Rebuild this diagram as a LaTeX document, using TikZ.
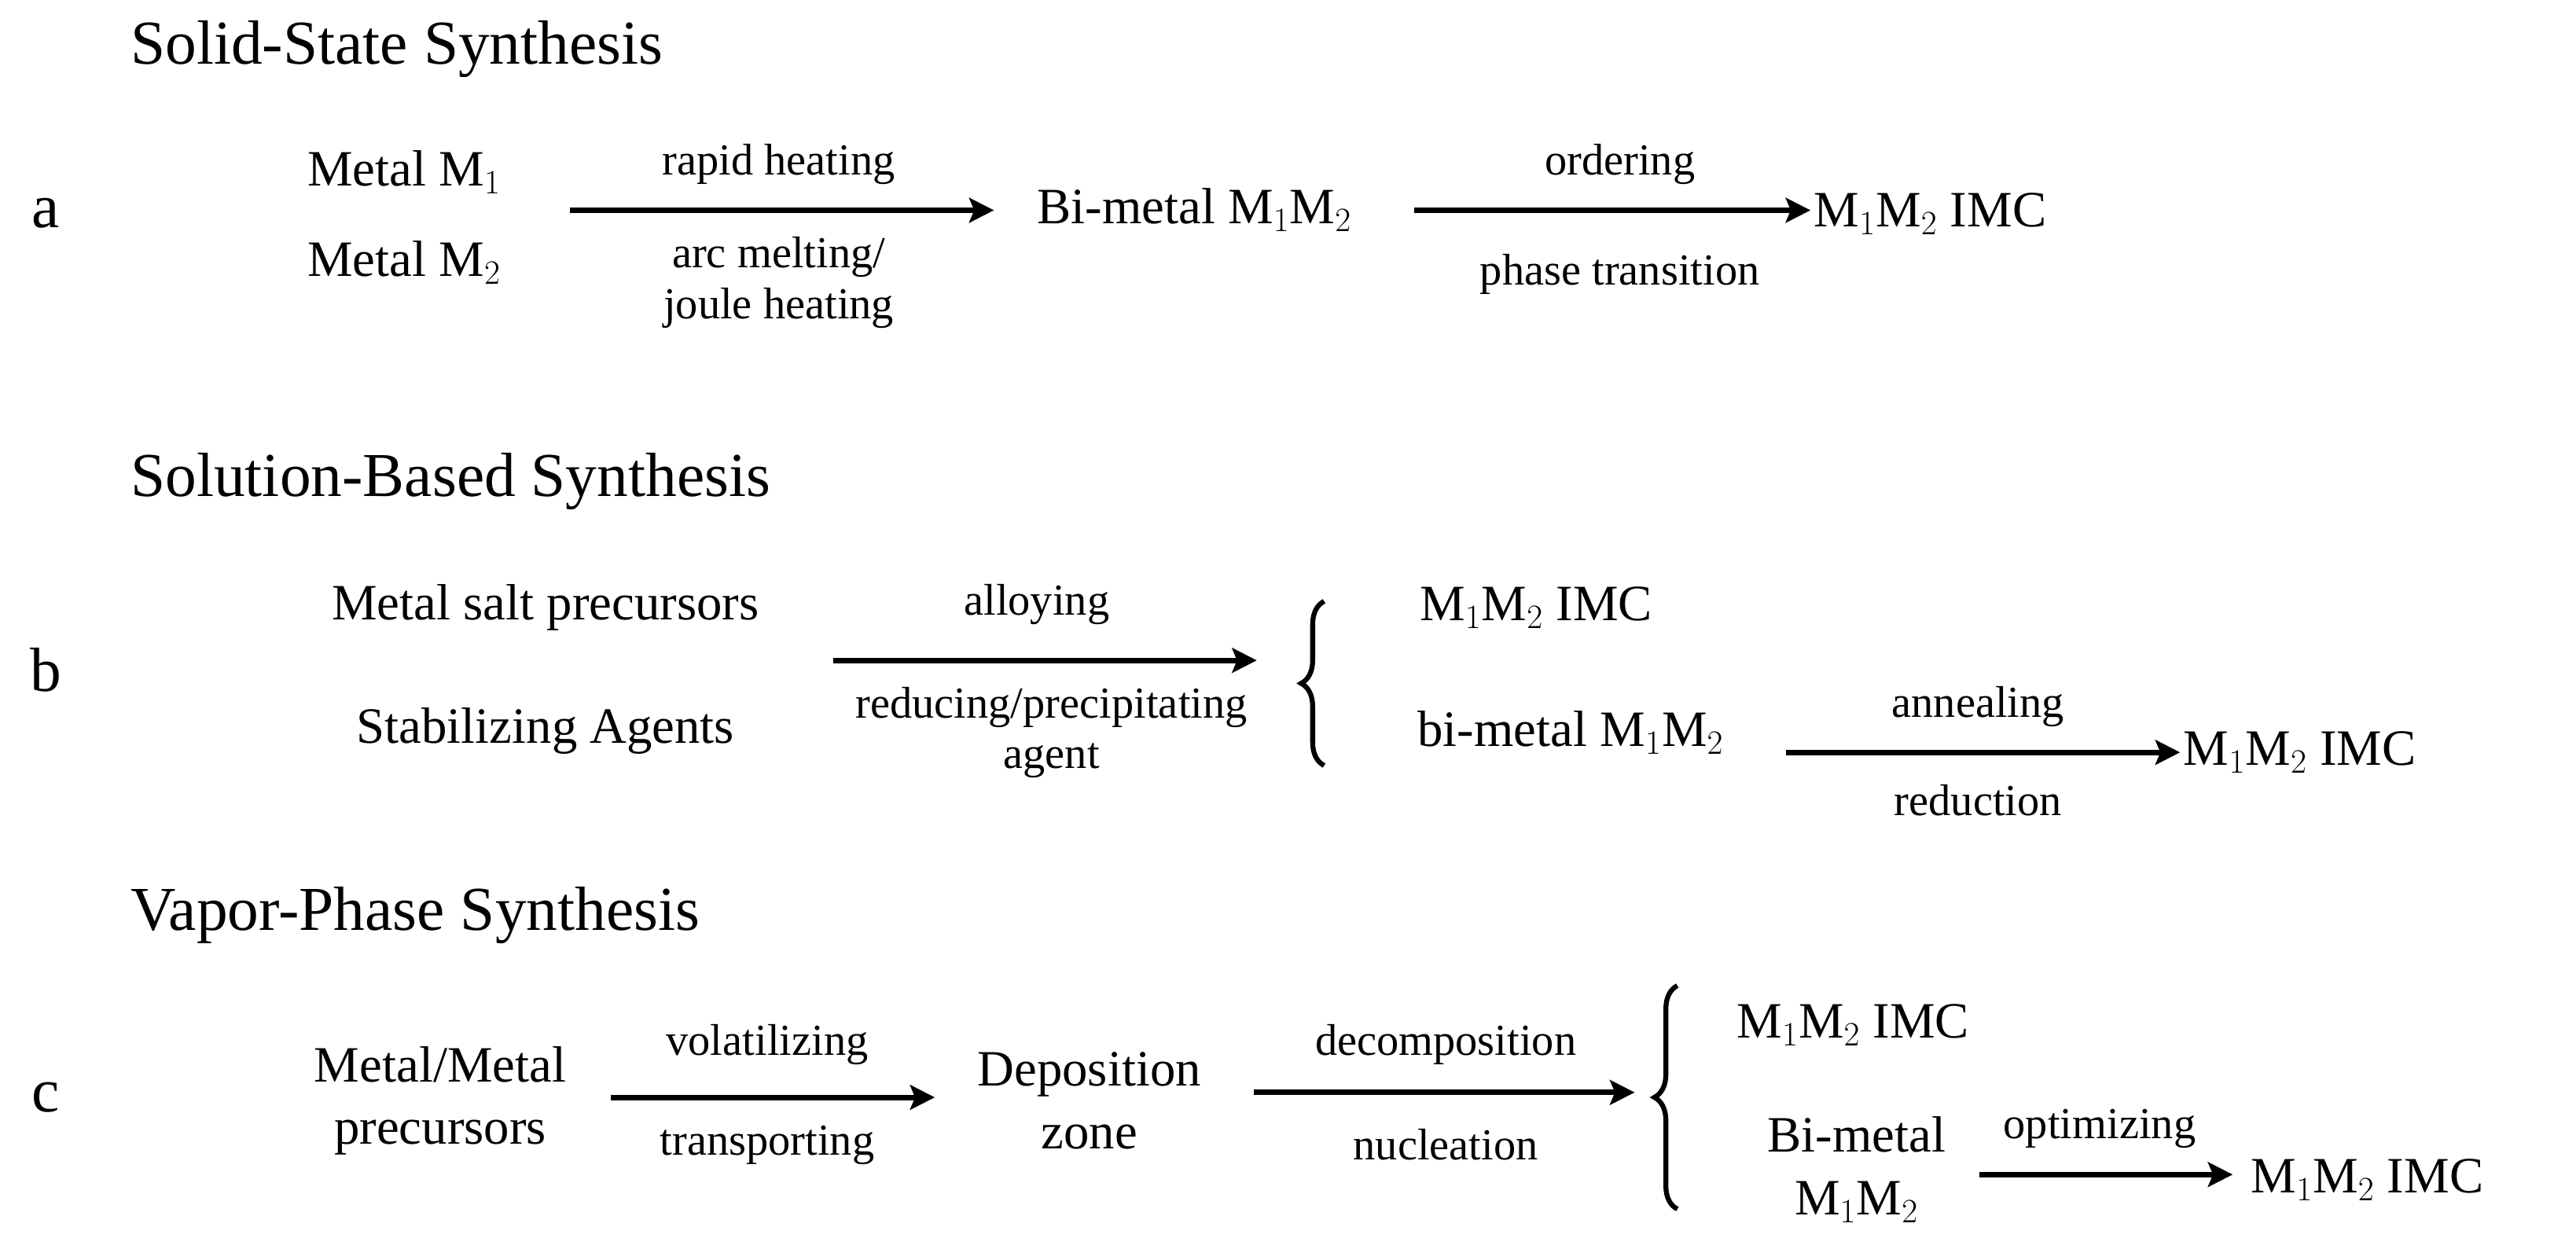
\documentclass[tikz,border=0pt]{standalone}
\usepackage{fontspec}
\setmainfont{Liberation Serif}
\usetikzlibrary{arrows.meta,decorations.pathreplacing}
\begin{document}
\begin{tikzpicture}[x=1pt,y=-1pt,
 ttl/.style={anchor=west,font=\fontsize{38}{42}\selectfont},
 lt/.style={font=\fontsize{38}{42}\selectfont},
 t/.style={font=\fontsize{31}{38}\selectfont,align=center,inner sep=0pt},
 s/.style={font=\fontsize{27}{31}\selectfont,align=center,inner sep=0pt},
 arr/.style={line width=3.4pt,-{Stealth[length=15pt,width=15pt,inset=3pt]}},
 br/.style={line width=3pt,decorate,decoration={brace,amplitude=14pt}}]
\useasboundingbox (0,0) rectangle (1568,767);
% a
\node[ttl] (ta) at (76,30) {Solid-State Synthesis};
\node[lt] (la) at (28,130) {a};
\node[t] (a1) at (246,105) {Metal M$_1$};
\node[t] (a2) at (246,160) {Metal M$_2$};
\coordinate (a1s) at (347,128); \coordinate (a1e) at (605,128);
\draw[arr] (a1s) -- (a1e);
\node[s] (a1t) at (474,100) {rapid heating};
\node[s] (a1b) at (474,172) {arc melting/\\joule heating};
\node[t] (bm) at (727,128) {Bi-metal M$_1$M$_2$};
\coordinate (a2s) at (861,128); \coordinate (a2e) at (1102,128);
\draw[arr] (a2s) -- (a2e);
\node[s] (a2t) at (986,100) {ordering};
\node[s] (a2b) at (986,167) {phase transition};
\node[t,anchor=west] (ai) at (1104,130) {M$_1$M$_2$ IMC};
% b
\node[ttl] (tb) at (76,293) {Solution-Based Synthesis};
\node[lt] (lb) at (28,408) {b};
\node[t] (b1) at (332,370) {Metal salt precursors};
\node[t] (b2) at (332,445) {Stabilizing Agents};
\coordinate (b1s) at (507,402); \coordinate (b1e) at (765,402);
\draw[arr] (b1s) -- (b1e);
\node[s] (b1t) at (631,368) {alloying};
\node[s] (b1b) at (640,446) {reducing/precipitating\\agent};
\coordinate (bb1) at (806,466); \coordinate (bb2) at (806,366);
\draw[br] (bb1) -- (bb2);
\node[t] (bi) at (935,370) {M$_1$M$_2$ IMC};
\node[t] (bbm) at (956,446) {bi-metal M$_1$M$_2$};
\coordinate (b2s) at (1087,458); \coordinate (b2e) at (1327,458);
\draw[arr] (b2s) -- (b2e);
\node[s] (b2t) at (1204,430) {annealing};
\node[s] (b2b) at (1204,487) {reduction};
\node[t,anchor=west] (bi2) at (1329,458) {M$_1$M$_2$ IMC};
% c
\node[ttl] (tc) at (76,557) {Vapor-Phase Synthesis};
\node[lt] (lc) at (28,668) {c};
\node[t] (c1) at (268,670) {Metal/Metal\\precursors};
\coordinate (c1s) at (372,668); \coordinate (c1e) at (569,668);
\draw[arr] (c1s) -- (c1e);
\node[s] (c1t) at (467,636) {volatilizing};
\node[s] (c1b) at (467,697) {transporting};
\node[t] (dz) at (663,670) {Deposition\\zone};
\coordinate (c2s) at (763,665); \coordinate (c2e) at (995,665);
\draw[arr] (c2s) -- (c2e);
\node[s] (c2t) at (880,636) {decomposition};
\node[s] (c2b) at (880,697) {nucleation};
\coordinate (cb1) at (1021,736); \coordinate (cb2) at (1021,600);
\draw[br] (cb1) -- (cb2);
\node[t,anchor=west] (ci) at (1057,624) {M$_1$M$_2$ IMC};
\node[t] (cbm) at (1130,712) {Bi-metal\\M$_1$M$_2$};
\coordinate (c3s) at (1205,715); \coordinate (c3e) at (1359,715);
\draw[arr] (c3s) -- (c3e);
\node[s] (c3t) at (1278,687) {optimizing};
\node[t,anchor=west] (ci2) at (1370,718) {M$_1$M$_2$ IMC};
\end{tikzpicture}
\end{document}
